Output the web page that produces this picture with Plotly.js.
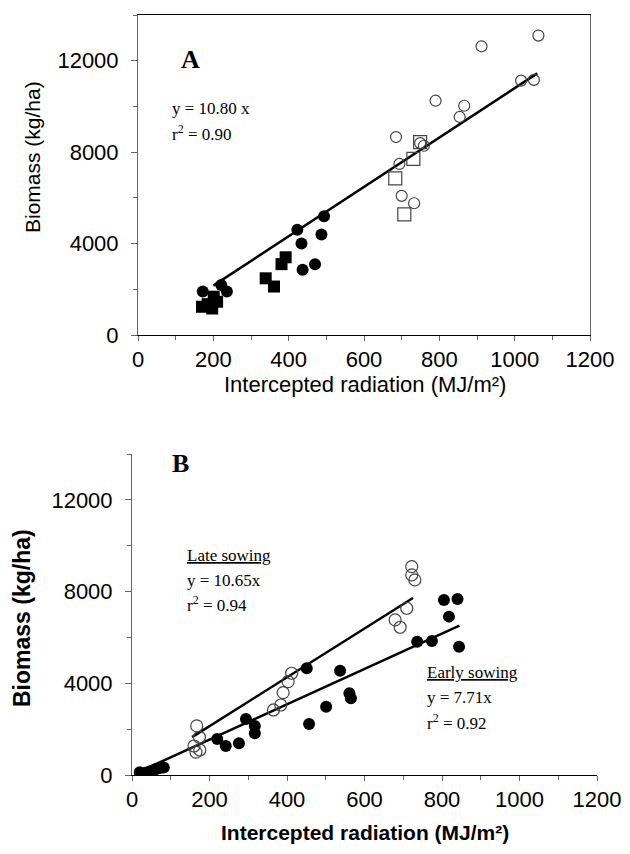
<!DOCTYPE html>
<html><head><meta charset="utf-8">
<script src="https://cdn.plot.ly/plotly-3.0.1.min.js"></script>
<style>body{margin:0;background:#fff}#c{width:630px;height:854px}</style>
</head><body><div id="c"></div>
<script>
// ---- Panel A data ----
const aOpenCircleX = [1063, 912, 1017, 1051, 790, 866, 854, 685, 749, 759, 694, 700, 733];
const aOpenCircleY = [13100, 12630, 11130, 11160, 10250, 10030, 9540, 8660, 8395, 8280, 7484, 6087, 5765];
const aOpenSquareX = [749, 731, 683, 707];
const aOpenSquareY = [8440, 7705, 6850, 5280];
const aFilledCircleX = [423, 494, 487, 434, 437, 470, 172, 221, 236];
const aFilledCircleY = [4600, 5200, 4400, 4000, 2850, 3100, 1900, 2190, 1900];
const aFilledSquareX = [392, 381, 339, 361, 170, 197, 210, 201, 185];
const aFilledSquareY = [3400, 3100, 2480, 2120, 1235, 1160, 1455, 1676, 1350];
const aSlope = 10.80, aLineX = [200, 1060];
// ---- Panel B data ----
const bLateX = [167, 174, 160, 165, 175, 412, 403, 390, 384, 365, 722, 722, 730, 709, 679, 692];
const bLateY = [2140, 1645, 1265, 1000, 1090, 4437, 4071, 3591, 3054, 2836, 9090, 8727, 8508, 7273, 6763, 6444];
const bEarlyX = [20, 35, 45, 60, 72, 82, 220, 242, 276, 294, 317, 317, 451, 537, 501, 457, 561, 565, 805, 840, 818, 736, 774, 844];
const bEarlyY = [120, 100, 150, 250, 300, 330, 1570, 1265, 1382, 2443, 2138, 1818, 4655, 4550, 2980, 2225, 3564, 3346, 7635, 7679, 6907, 5816, 5846, 5598];
const bLateSlope = 10.65, bLateLineX = [155, 725];
const bEarlySlope = 7.71, bEarlyLineX = [20, 845];
const xTickVals = [0, 200, 400, 600, 800, 1000, 1200];
const xTickText = ['0', '200', '400', '600', '800', '1000', '1200'];
const yTickVals = [0, 4000, 8000, 12000];
const yTickText = ['0', '4000', '8000', '12000'];

const W = 630, H = 854;
const px = x => x / W, py = y => 1 - y / H;

const line = (xs, k) => xs.map(v => v * k);
const traces = [
  {x: aLineX, y: line(aLineX, aSlope), xaxis: 'x', yaxis: 'y', mode: 'lines', line: {color: '#000', width: 2.5}},
  {x: aFilledSquareX, y: aFilledSquareY, xaxis: 'x', yaxis: 'y', mode: 'markers', marker: {symbol: 'square', size: 12, color: '#000'}},
  {x: aFilledCircleX, y: aFilledCircleY, xaxis: 'x', yaxis: 'y', mode: 'markers', marker: {symbol: 'circle', size: 12, color: '#000'}},
  {x: aOpenSquareX, y: aOpenSquareY, xaxis: 'x', yaxis: 'y', mode: 'markers', marker: {symbol: 'square-open', size: 13, color: '#444', line: {width: 1.2}}},
  {x: aOpenCircleX, y: aOpenCircleY, xaxis: 'x', yaxis: 'y', mode: 'markers', marker: {symbol: 'circle-open', size: 11, color: '#444', line: {width: 1.2}}},
  {x: bLateLineX, y: line(bLateLineX, bLateSlope), xaxis: 'x2', yaxis: 'y2', mode: 'lines', line: {color: '#000', width: 2.5}},
  {x: bEarlyLineX, y: line(bEarlyLineX, bEarlySlope), xaxis: 'x2', yaxis: 'y2', mode: 'lines', line: {color: '#000', width: 2.5}},
  {x: bEarlyX, y: bEarlyY, xaxis: 'x2', yaxis: 'y2', mode: 'markers', marker: {symbol: 'circle', size: 12, color: '#000'}},
  {x: bLateX, y: bLateY, xaxis: 'x2', yaxis: 'y2', mode: 'markers', marker: {symbol: 'circle-open', size: 12, color: '#444', line: {width: 1.2}}}
];

const tickFont = {family: 'Liberation Sans, Arial, sans-serif', size: 22, color: '#000'};
function xax(dom, anchor, mirror) {
  return {domain: dom, anchor: anchor, range: [0, 1200], tickmode: 'array', tickvals: xTickVals, ticktext: xTickText,
    showgrid: false, zeroline: false,
    showline: true, linecolor: '#000', linewidth: 1, mirror: mirror, ticks: 'outside', ticklen: 5, tickcolor: '#666',
    minor: {dtick: 100, ticks: 'outside', ticklen: 4, tickcolor: '#666', tick0: 0},
    tickfont: tickFont, automargin: false};
}
function yax(dom, anchor, mirror) {
  return {domain: dom, anchor: anchor, range: [0, 14000], tickmode: 'array', tickvals: yTickVals, ticktext: yTickText,
    showgrid: false, zeroline: false,
    showline: true, linecolor: '#666', linewidth: 1, mirror: mirror, ticks: 'outside', ticklen: 6, tickcolor: '#666',
    minor: {dtick: 2000, ticks: 'outside', ticklen: 4, tickcolor: '#666', tick0: 0},
    tickfont: tickFont, ticklabelstandoff: 8, automargin: false};
}

const serif = 'Liberation Serif, Times New Roman, serif';
const sans = 'Liberation Sans, Arial, sans-serif';
function ann(text, x, y, opts) {
  return Object.assign({text: text, xref: 'paper', yref: 'paper', x: px(x), y: py(y), showarrow: false,
    xanchor: 'left', yanchor: 'middle', font: {family: serif, size: 17, color: '#000'}}, opts || {});
}
const annotations = [
  ann('<b>A</b>', 190, 60, {xanchor: 'center', font: {family: serif, size: 26, color: '#000'}}),
  ann('y = 10.80 x', 170, 108),
  ann('r<sup>2</sup> = 0.90', 170, 133),
  ann('<b>B</b>', 180, 463, {xanchor: 'center', font: {family: serif, size: 26, color: '#000'}}),
  ann('<u>Late sowing</u>', 185, 555),
  ann('y = 10.65x', 185, 580),
  ann('r<sup>2</sup> = 0.94', 185, 604),
  ann('<u>Early sowing</u>', 425, 672),
  ann('y = 7.71x', 425, 697),
  ann('r<sup>2</sup> = 0.92', 425, 722),
  ann('Biomass (kg/ha)', 33, 157, {xanchor: 'center', textangle: -90, font: {family: sans, size: 21, color: '#000'}}),
  ann('Intercepted radiation (MJ/m²)', 365, 385, {xanchor: 'center', font: {family: sans, size: 22, color: '#000'}}),
  ann('<b>Biomass (kg/ha)</b>', 22, 618, {xanchor: 'center', textangle: -90, font: {family: sans, size: 23, color: '#000'}}),
  ann('<b>Intercepted radiation (MJ/m²)</b>', 365, 832, {xanchor: 'center', font: {family: sans, size: 21, color: '#000'}})
];

const layout = {
  width: W, height: H, margin: {l: 0, r: 0, t: 0, b: 0}, showlegend: false,
  paper_bgcolor: '#fff', plot_bgcolor: '#fff',
  xaxis: xax([px(138), px(590)], 'y', true),
  yaxis: yax([py(335), py(15)], 'x', true),
  xaxis2: xax([px(132), px(597)], 'y2', false),
  yaxis2: yax([py(775), py(454)], 'x2', false),
  annotations: annotations
};
Plotly.newPlot('c', traces, layout, {displayModeBar: false, staticPlot: true});
</script></body></html>
